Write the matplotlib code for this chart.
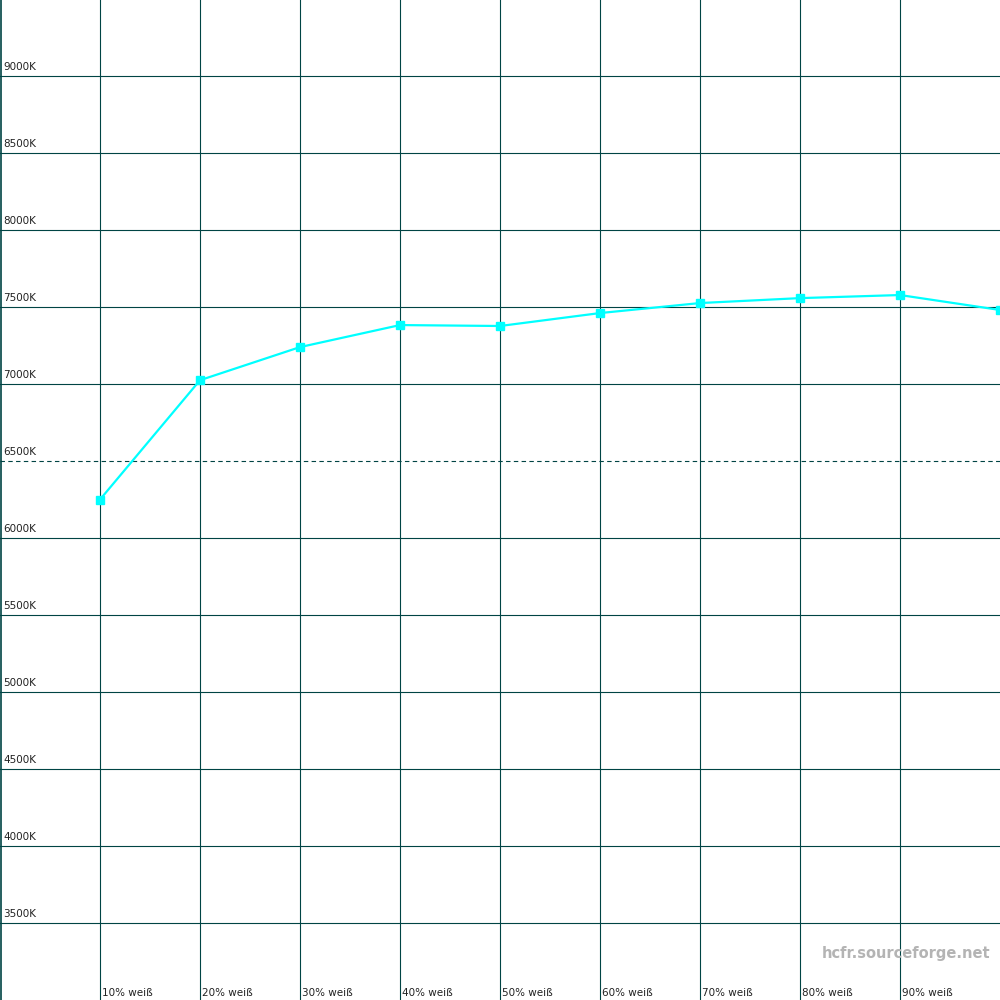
import matplotlib.pyplot as plt

# data
levels = [10, 20, 30, 40, 50, 60, 70, 80, 90, 100]
temps = [6250, 7025, 7240, 7383, 7377, 7461, 7526, 7558, 7578, 7481]
x_labels = ['10% weiß', '20% weiß', '30% weiß', '40% weiß', '50% weiß',
            '60% weiß', '70% weiß', '80% weiß', '90% weiß']
y_ticks = [3500, 4000, 4500, 5000, 5500, 6000, 6500, 7000, 7500, 8000, 8500, 9000]
ref_temp = 6500

grid_col = '#004444'

fig = plt.figure(figsize=(10, 10), dpi=100)
ax = fig.add_axes([0, 0, 1, 1])
ax.set_xlim(0, 100)
ax.set_ylim(3000, 9494)
ax.axis('off')

# grid
for x in levels[:-1]:
    ax.axvline(x, color=grid_col, lw=0.8)
ax.axvline(0.1, color=grid_col, lw=1.2)
for y in y_ticks:
    if y == ref_temp:
        ax.axhline(y, color=grid_col, lw=0.8, ls=(0, (4, 3)))
    else:
        ax.axhline(y, color=grid_col, lw=0.8)
    ax.text(0.3, y + 25, f'{y}K', fontsize=7.5, color='#222222',
            ha='left', va='bottom')

for x, lab in zip(levels, x_labels):
    ax.text(x + 0.2, 3010, lab, fontsize=7.5, color='#222222',
            ha='left', va='bottom')

# curve
ax.plot(levels, temps, color='#00ffff', lw=1.6, marker='s', markersize=6)

ax.text(99, 3300, 'hcfr.sourceforge.net', fontsize=10.5, fontweight='bold',
        color='#b4b4b4', ha='right', va='center')

fig.savefig('out.png', dpi=100)
